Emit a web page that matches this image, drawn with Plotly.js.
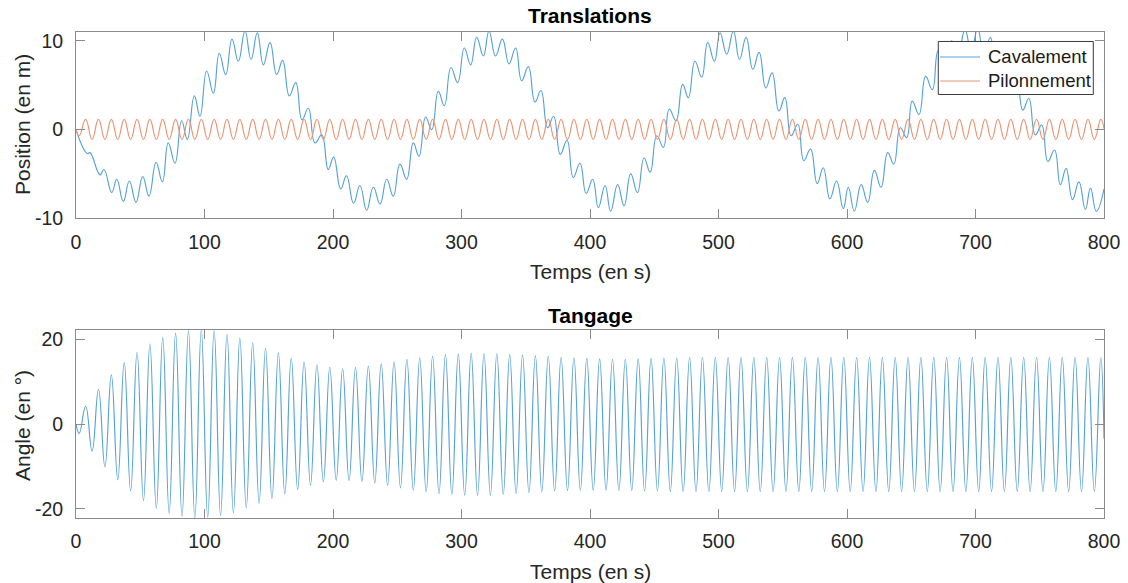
<!DOCTYPE html>
<html>
<head>
<meta charset="utf-8">
<script src="https://cdn.plot.ly/plotly-3.0.1.min.js"></script>
<style>
  html, body { margin: 0; padding: 0; background: #fff; }
  #chart { width: 1128px; height: 583px; }
</style>
</head>
<body>
<div id="chart"></div>
<script>
// ---------- Data ----------
// Cavalement (surge): times (s) and values (m) at the visible local extremes
const cavT = [0, 8.8, 10.9, 18.7, 21.8, 27.8, 31.7, 36.8, 41.5, 46.7, 51.9, 56.8, 62.3, 67.2, 71.8, 77, 82.2, 86.6, 92.1, 96.5,
  101.7, 106.9, 111.5, 116.5, 121.4, 126.3, 131.5, 136.2, 141.1, 145.8, 151, 156.2, 160.8, 166, 171, 175.9, 180.8, 186, 191.2, 196.3,
  200.5, 206, 210.5, 216, 221, 226.2, 231.4, 236.6, 241.8, 246.9, 252.1, 257.3, 262.5, 266.9, 272.1, 276.8, 282, 286.6, 291.8, 297,
  302.2, 307.1, 311.8, 317, 321.4, 326.5, 331.8, 337, 342.1, 346.8, 352, 357.2, 361.8, 367, 371.7, 376.9, 382.1, 387, 392.2, 397,
  402.1, 406.5, 411.7, 416.1, 421.5, 426.5, 431.7, 436.9, 442.1, 446.8, 452, 457.1, 461.7, 466.9, 472.1, 476.5, 481.7, 486.9, 491.6, 496.8,
  501.2, 506.4, 511.6, 516.3, 521.5, 526.7, 531.6, 536.8, 541.7, 547, 551.6, 556.5, 561.7, 566.4, 571.6, 576.8, 581.5, 586.7, 591.9, 597.1,
  601, 605.7, 611, 616.1, 621.3, 626.5, 631.7, 636.4, 641.5, 646.4, 650.8, 656, 661.2, 666.4, 671, 676.2, 681.4, 686.5, 691.8, 696.6,
  701.7, 706.5, 711.5, 716.5, 721.5, 726.5, 731.6, 736.8, 741.5, 746.5, 751.5, 756.3, 761.5, 766, 770.5, 775.5, 780.5, 785.5, 789.5, 794,
  800];
const cavY = [0, -2.7, -2.6, -5.1, -4.5, -7.1, -5.6, -8.1, -5.8, -8.2, -5.3, -7.5, -3.7, -5.9, -1.5, -3.8, 1.0, -1.1, 3.8, 1.5,
  6.6, 4.1, 8.6, 6.2, 10.2, 7.7, 11.1, 7.9, 10.9, 7.3, 9.8, 6.2, 7.8, 3.8, 5.3, 1.1, 2.4, -1.5, -0.6, -4.5,
  -3.1, -6.7, -5.2, -8.3, -6.3, -9.1, -6.5, -8.4, -5.6, -7.5, -3.9, -5.6, -1.5, -3.0, 1.4, 0.0, 4.3, 2.7, 7.0, 5.3,
  9.2, 7.3, 10.4, 8.3, 11.1, 8.3, 10.2, 7.4, 9.2, 5.5, 7.1, 3.1, 4.4, 0.2, 1.5, -2.8, -1.2, -5.4, -3.8, -7.2,
  -5.6, -8.8, -6.3, -9.2, -6.2, -8.6, -5.0, -7.1, -3.2, -4.8, -0.7, -2.0, 2.3, 1.0, 5.1, 3.6, 7.7, 5.9, 9.8, 7.7,
  10.9, 8.5, 11.1, 7.9, 10.4, 6.8, 8.7, 4.7, 6.4, 2.1, 3.6, -0.7, 0.6, -3.5, -2.2, -6.1, -4.3, -7.8, -5.8, -8.9,
  -6.5, -9.2, -6.2, -8.2, -4.6, -6.5, -2.6, -3.9, 0.2, -0.9, 3.2, 1.7, 6.0, 4.5, 8.9, 7.4, 10.0, 8.6, 11.3, 8.8,
  11.4, 8.2, 10.4, 6.8, 8.6, 4.8, 6.3, 2.2, 3.5, -0.6, 0.5, -3.6, -2.3, -6.2, -4.4, -7.9, -5.9, -9.0, -6.6, -9.2,
  -6.7];

// Wave-period signals: times (s) of troughs / crests
const waveT = [0, 2.5, 7.5, 12.5, 17.5, 22.5, 27.5, 32.5, 37.5, 42.5, 47.5, 52.5, 57.5, 62.5, 67.5, 72.5, 77.5, 82.5, 87.5, 92.5, 97.5,
  102.5, 107.5, 112.5, 117.5, 122.5, 127.5, 132.5, 137.5, 142.5, 147.5, 152.5, 157.5, 162.5, 167.5, 172.5, 177.5, 182.5, 187.5, 192.5, 197.5,
  202.5, 207.5, 212.5, 217.5, 222.5, 227.5, 232.5, 237.5, 242.5, 247.5, 252.5, 257.5, 262.5, 267.5, 272.5, 277.5, 282.5, 287.5, 292.5, 297.5,
  302.5, 307.5, 312.5, 317.5, 322.5, 327.5, 332.5, 337.5, 342.5, 347.5, 352.5, 357.5, 362.5, 367.5, 372.5, 377.5, 382.5, 387.5, 392.5, 397.5,
  402.5, 407.5, 412.5, 417.5, 422.5, 427.5, 432.5, 437.5, 442.5, 447.5, 452.5, 457.5, 462.5, 467.5, 472.5, 477.5, 482.5, 487.5, 492.5, 497.5,
  502.5, 507.5, 512.5, 517.5, 522.5, 527.5, 532.5, 537.5, 542.5, 547.5, 552.5, 557.5, 562.5, 567.5, 572.5, 577.5, 582.5, 587.5, 592.5, 597.5,
  602.5, 607.5, 612.5, 617.5, 622.5, 627.5, 632.5, 637.5, 642.5, 647.5, 652.5, 657.5, 662.5, 667.5, 672.5, 677.5, 682.5, 687.5, 692.5, 697.5,
  702.5, 707.5, 712.5, 717.5, 722.5, 727.5, 732.5, 737.5, 742.5, 747.5, 752.5, 757.5, 762.5, 767.5, 772.5, 777.5, 782.5, 787.5, 792.5, 797.5,
  800];

// Pilonnement (heave), m
const pilY = [0, -0.7, 1.15, -1.1, 1.15, -1.1, 1.15, -1.1, 1.15, -1.1, 1.15, -1.1, 1.15, -1.1, 1.15, -1.1, 1.15, -1.1, 1.15, -1.1, 1.15,
  -1.1, 1.15, -1.1, 1.15, -1.1, 1.15, -1.1, 1.15, -1.1, 1.15, -1.1, 1.15, -1.1, 1.15, -1.1, 1.15, -1.1, 1.15, -1.1, 1.15,
  -1.1, 1.15, -1.1, 1.15, -1.1, 1.15, -1.1, 1.15, -1.1, 1.15, -1.1, 1.15, -1.1, 1.15, -1.1, 1.15, -1.1, 1.15, -1.1, 1.15,
  -1.1, 1.15, -1.1, 1.15, -1.1, 1.15, -1.1, 1.15, -1.1, 1.15, -1.1, 1.15, -1.1, 1.15, -1.1, 1.15, -1.1, 1.15, -1.1, 1.15,
  -1.1, 1.15, -1.1, 1.15, -1.1, 1.15, -1.1, 1.15, -1.1, 1.15, -1.1, 1.15, -1.1, 1.15, -1.1, 1.15, -1.1, 1.15, -1.1, 1.15,
  -1.1, 1.15, -1.1, 1.15, -1.1, 1.15, -1.1, 1.15, -1.1, 1.15, -1.1, 1.15, -1.1, 1.15, -1.1, 1.15, -1.1, 1.15, -1.1, 1.15,
  -1.1, 1.15, -1.1, 1.15, -1.1, 1.15, -1.1, 1.15, -1.1, 1.15, -1.1, 1.15, -1.1, 1.15, -1.1, 1.15, -1.1, 1.15, -1.1, 1.15,
  -1.1, 1.15, -1.1, 1.15, -1.1, 1.15, -1.1, 1.15, -1.1, 1.15, -1.1, 1.15, -1.1, 1.15, -1.1, 1.15, -1.1, 1.15, -1.1, 1.15,
  0.1];

// Tangage (pitch), degrees
const tanY = [0, -2.2, 4.2, -6.4, 8.2, -10.1, 11.6, -13.2, 14.5, -15.8, 16.9, -18.1, 18.9, -19.9, 20.4, -21.1, 21.4, -21.8, 22.0, -22.1, 22.2,
  -22.0, 22.0, -21.6, 21.2, -21.0, 20.3, -19.8, 19.2, -18.7, 17.9, -17.6, 16.8, -16.5, 15.6, -15.5, 14.7, -14.5, 14.0, -13.7, 13.4,
  -13.3, 13.1, -13.4, 13.4, -13.6, 13.7, -14.0, 14.2, -14.5, 14.7, -15.1, 15.3, -15.6, 15.6, -16.0, 16.0, -16.4, 16.4, -16.6, 16.5,
  -16.8, 16.7, -16.8, 16.6, -16.8, 16.6, -16.6, 16.4, -16.4, 16.3, -16.2, 16.1, -16.0, 16.0, -15.8, 15.7, -15.7, 15.6, -15.6, 15.5,
  -15.6, 15.4, -15.6, 15.3, -15.7, 15.3, -15.7, 15.4, -15.8, 15.5, -15.8, 15.6, -15.9, 15.6, -15.9, 15.7, -15.9, 15.7, -15.9, 15.7,
  -15.9, 15.7, -15.9, 15.7, -15.9, 15.7, -15.9, 15.7, -15.9, 15.7, -15.9, 15.7, -15.9, 15.7, -15.9, 15.7, -15.9, 15.7, -15.9, 15.7,
  -15.9, 15.7, -15.9, 15.7, -15.9, 15.7, -15.9, 15.7, -15.9, 15.7, -15.9, 15.7, -15.9, 15.7, -15.9, 15.7, -15.9, 15.7, -15.9, 15.7,
  -15.9, 15.7, -15.9, 15.7, -15.9, 15.7, -15.9, 15.7, -15.9, 15.7, -15.9, 15.7, -15.9, 15.7, -15.9, 15.7, -15.9, 15.7, -15.9, 15.7,
  -3.5];

const seriesNames = ['Cavalement', 'Pilonnement'];
const xTicks = [0, 100, 200, 300, 400, 500, 600, 700, 800];
const yTicksTop = [-10, 0, 10];
const yTicksBottom = [-20, 0, 20];

// ---------- Plot ----------
const BLUE = 'rgb(86,162,216)';
const ORANGE = 'rgb(236,148,114)';
const FONT = 'Liberation Sans, Arial, sans-serif';
const AX = '#8a8a8a';

const traces = [
  { x: cavT, y: cavY, xaxis: 'x', yaxis: 'y', name: seriesNames[0], type: 'scatter', mode: 'lines', showlegend: false,
    line: { color: BLUE, width: 1.15, shape: 'spline', smoothing: 1.3 } },
  { x: waveT, y: pilY, xaxis: 'x', yaxis: 'y', name: seriesNames[1], type: 'scatter', mode: 'lines', showlegend: false,
    line: { color: ORANGE, width: 1.15, shape: 'spline', smoothing: 1.3 } },
  { x: waveT, y: tanY, xaxis: 'x2', yaxis: 'y2', name: 'Tangage', type: 'scatter', mode: 'lines', showlegend: false,
    line: { color: BLUE, width: 1.15, shape: 'spline', smoothing: 1.3 } }
];

function xAxis(anchor) {
  return { anchor: anchor, domain: [0, 1], range: [0, 800], tickvals: xTicks, ticktext: xTicks.map(String),
    showline: true, mirror: 'ticks', linecolor: AX, linewidth: 1, ticks: 'inside', ticklen: 9, tickcolor: AX,
    showgrid: false, zeroline: false, tickfont: { family: FONT, size: 19.5, color: '#262626' }, ticklabelstandoff: 6 };
}
function yAxis(anchor, domain, range, ticks) {
  return { anchor: anchor, domain: domain, range: range, tickvals: ticks, ticktext: ticks.map(String),
    showline: true, mirror: 'ticks', linecolor: AX, linewidth: 1, ticks: 'inside', ticklen: 9, tickcolor: AX,
    showgrid: false, zeroline: false, tickfont: { family: FONT, size: 19.5, color: '#262626' }, ticklabelstandoff: 8 };
}

// Legend box (paper coordinates), drawn as shapes + text like the MATLAB legend
const LX0 = 0.8388, LX1 = 0.9896, LY0 = 0.8714, LY1 = 0.9805;
const SX0 = 0.8405, SX1 = 0.8794, TX = 0.8852;
const rowY = [0.9486, 0.8992];
const rowColor = [BLUE, ORANGE];

const shapes = [
  { type: 'rect', xref: 'paper', yref: 'paper', x0: LX0, x1: LX1, y0: LY0, y1: LY1, layer: 'above',
    fillcolor: '#fff', line: { color: '#3a3a3a', width: 1 } }
];
rowY.forEach((yy, i) => shapes.push({ type: 'line', xref: 'paper', yref: 'paper', x0: SX0, x1: SX1, y0: yy, y1: yy,
  layer: 'above', line: { color: rowColor[i], width: 1.15 } }));

const annotations = [
  { text: 'Translations', xref: 'paper', yref: 'paper', x: 0.5, y: 1.034, xanchor: 'center', yanchor: 'middle', showarrow: false,
    font: { family: FONT, size: 21, color: '#000', weight: 'bold' } },
  { text: 'Tangage', xref: 'paper', yref: 'paper', x: 0.5, y: 0.4167, xanchor: 'center', yanchor: 'middle', showarrow: false,
    font: { family: FONT, size: 21, color: '#000', weight: 'bold' } },
  { text: 'Temps (en s)', xref: 'paper', yref: 'paper', x: 0.5, y: 0.5082, xanchor: 'center', yanchor: 'middle', showarrow: false,
    font: { family: FONT, size: 21, color: '#262626' } },
  { text: 'Temps (en s)', xref: 'paper', yref: 'paper', x: 0.5, y: -0.1111, xanchor: 'center', yanchor: 'middle', showarrow: false,
    font: { family: FONT, size: 21, color: '#262626' } },
  { text: 'Position (en m)', xref: 'paper', yref: 'paper', x: -0.0525, y: 0.8086, xanchor: 'center', yanchor: 'middle', showarrow: false,
    textangle: -90, font: { family: FONT, size: 21, color: '#262626' } },
  { text: 'Angle (en °)', xref: 'paper', yref: 'paper', x: -0.0525, y: 0.1893, xanchor: 'center', yanchor: 'middle', showarrow: false,
    textangle: -90, font: { family: FONT, size: 21, color: '#262626' } }
];
seriesNames.forEach((nm, i) => annotations.push({ text: nm, xref: 'paper', yref: 'paper', x: TX, y: rowY[i],
  xanchor: 'left', yanchor: 'middle', showarrow: false, font: { family: FONT, size: 18.5, color: '#1a1a1a' } }));

const layout = {
  width: 1128, height: 583,
  margin: { l: 76, r: 24, t: 32, b: 65 },
  paper_bgcolor: '#fff', plot_bgcolor: '#fff',
  showlegend: false,
  xaxis: xAxis('y'),
  yaxis: yAxis('x', [0.6167, 1], [-10, 11], yTicksTop),
  xaxis2: xAxis('y2'),
  yaxis2: yAxis('x2', [0, 0.3868], [-22.2, 22.2], yTicksBottom),
  shapes: shapes,
  annotations: annotations
};

Plotly.newPlot('chart', traces, layout, { staticPlot: true, displayModeBar: false });
</script>
</body>
</html>
